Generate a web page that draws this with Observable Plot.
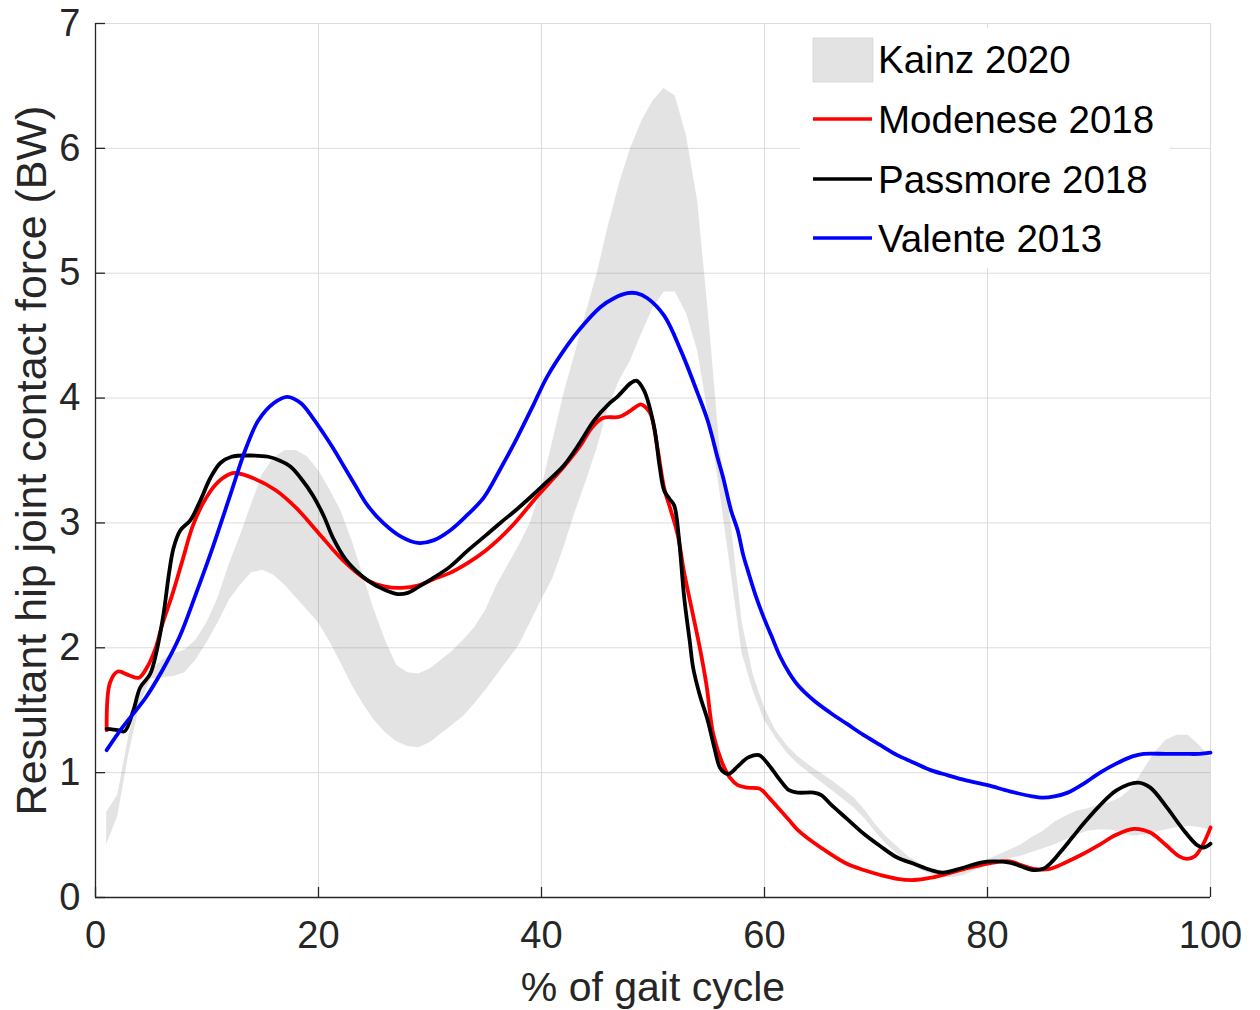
<!DOCTYPE html>
<html><head><meta charset="utf-8">
<script src="https://cdn.jsdelivr.net/npm/d3@7"></script>
<script src="https://cdn.jsdelivr.net/npm/@observablehq/plot@0.6"></script>
<style>
body{margin:0;background:#fff;}
#wrap{position:relative;width:1260px;height:1010px;font-family:"Liberation Sans",Arial,sans-serif;}
#wrap svg{position:absolute;left:0;top:0;}
</style></head><body><div id="wrap"></div>
<script>
const xTicks = [0, 20, 40, 60, 80, 100];
const yTicks = [0, 1, 2, 3, 4, 5, 6, 7];
const xLabel = "% of gait cycle";
const yLabel = "Resultant hip joint contact force (BW)";
const bandName = "Kainz 2020";
const lineNames = ["Modenese 2018", "Passmore 2018", "Valente 2013"];

// Kainz 2020 band (lower / upper bounds)
const kainzX = [1,2,3,4,5,6,7,8,9,10,11,12,13,14,15,16,17,18,19,20,21,22,23,24,25,26,27,28,29,30,31,32,33,34,35,36,37,38,39,40,41,42,43,44,45,46,47,48,49,50,51,52,53,54,55,56,57,58,59,60,61,62,63,64,65,66,67,68,69,70,71,72,73,74,75,76,77,78,79,80,81,82,83,84,85,86,87,88,89,90,91,92,93,94,95,96,97,98,99,100];
const kainzHigh = [0.68,0.82,1.3,1.62,1.82,1.9,1.95,1.98,2.06,2.2,2.4,2.67,2.9,3.15,3.39,3.52,3.58,3.58,3.53,3.42,3.27,3.1,2.86,2.58,2.3,2.06,1.86,1.8,1.79,1.83,1.9,1.97,2.06,2.16,2.3,2.5,2.66,2.82,3.0,3.27,3.65,4.03,4.35,4.68,5.0,5.38,5.72,6.0,6.22,6.38,6.48,6.42,6.1,5.58,4.65,3.6,3.0,2.2,1.78,1.52,1.34,1.22,1.13,1.06,1.0,0.94,0.87,0.8,0.7,0.58,0.48,0.4,0.32,0.27,0.22,0.2,0.2,0.22,0.26,0.3,0.34,0.38,0.42,0.48,0.53,0.6,0.65,0.69,0.71,0.74,0.76,0.8,0.88,1.02,1.16,1.26,1.3,1.3,1.22,1.12];
const kainzLow = [0.42,0.65,1.15,1.55,1.75,1.76,1.77,1.8,1.9,2.04,2.2,2.38,2.5,2.6,2.62,2.58,2.5,2.4,2.3,2.2,2.05,1.88,1.7,1.55,1.42,1.32,1.25,1.21,1.2,1.24,1.31,1.38,1.45,1.55,1.66,1.78,1.9,2.02,2.2,2.38,2.55,2.8,3.08,3.33,3.6,3.92,4.14,4.3,4.52,4.72,4.85,4.85,4.68,4.38,3.85,3.25,2.6,1.95,1.65,1.42,1.28,1.16,1.07,1.0,0.93,0.86,0.79,0.72,0.63,0.52,0.42,0.34,0.27,0.22,0.18,0.16,0.16,0.18,0.22,0.26,0.29,0.31,0.33,0.36,0.39,0.42,0.46,0.5,0.53,0.54,0.54,0.52,0.49,0.5,0.52,0.54,0.56,0.57,0.56,0.54];

// Modenese 2018
const modeneseX = [1,1.3,2,3,3.9,4.6,5.4,6,6.9,7.8,8.7,9.6,10.8,12,12.6,14.1,16.2,18,20,22.2,24.4,26,27.4,29,30.3,31.8,33.4,35,36.3,37.8,39.3,40.5,42,43.5,44.5,45.5,47,48,48.9,49.3,49.8,50.4,51,51.6,52.2,52.8,53.5,54.2,54.8,55.4,56.2,56.9,57.6,58.5,59.6,60.4,61.4,62.2,63,64.4,65.9,67.4,68.9,70.4,71.9,73.4,75,76.4,78,79.4,80.5,82,83,84.1,85.6,87,88.6,90,91.5,93.1,94.6,96,97.2,97.9,98.6,99.3,100];
const modeneseY = [1.34,1.72,1.81,1.78,1.76,1.84,2.0,2.19,2.43,2.7,2.97,3.15,3.31,3.39,3.4,3.36,3.26,3.12,2.92,2.7,2.54,2.49,2.48,2.5,2.55,2.6,2.68,2.78,2.88,3.02,3.18,3.3,3.45,3.62,3.76,3.84,3.85,3.9,3.95,3.93,3.87,3.6,3.28,3.1,2.91,2.6,2.3,2.0,1.7,1.31,1.08,0.96,0.9,0.88,0.87,0.8,0.7,0.62,0.54,0.44,0.35,0.27,0.22,0.18,0.15,0.14,0.16,0.19,0.23,0.26,0.28,0.29,0.26,0.23,0.23,0.28,0.35,0.42,0.5,0.55,0.52,0.42,0.33,0.31,0.33,0.42,0.56];

// Passmore 2018
const passmoreX = [1,2,2.6,3.4,4,4.9,5.5,6.1,6.6,7,7.6,8.5,9.4,10.3,11.2,12.2,13.9,15.5,16.5,17.5,18.4,19.5,20.5,21.3,22.5,24.4,25.8,27.1,28,29,30.3,31.8,33.4,35,36.3,37.8,39.3,40.5,42,43.5,44.7,46,46.8,48,48.5,49.2,50.1,50.6,51,51.5,51.9,52.3,52.8,53.3,53.6,54.2,54.9,55.5,56,56.4,56.8,57.6,58.5,59.5,60.4,61.4,62.2,63,64.4,65.1,65.9,67.4,68.9,70.4,71.9,73.4,74.9,76,77.5,79.4,80.5,82,83,84.1,85,85.6,86.5,87.6,88.6,90,91.6,93.5,94.6,96.1,97.5,98.8,99.4,100];
const passmoreY = [1.35,1.34,1.33,1.5,1.68,1.79,1.98,2.27,2.6,2.8,2.94,3.02,3.18,3.36,3.48,3.53,3.54,3.53,3.5,3.45,3.36,3.22,3.05,2.88,2.7,2.54,2.47,2.43,2.44,2.49,2.56,2.65,2.78,2.9,3.0,3.11,3.23,3.33,3.46,3.65,3.82,3.95,4.01,4.12,4.14,4.06,3.77,3.45,3.26,3.19,3.14,2.9,2.4,2.05,1.84,1.62,1.42,1.2,1.04,1.0,0.99,1.05,1.12,1.14,1.06,0.94,0.86,0.84,0.84,0.82,0.75,0.63,0.51,0.41,0.32,0.27,0.22,0.2,0.23,0.28,0.29,0.28,0.25,0.22,0.23,0.27,0.36,0.48,0.59,0.73,0.86,0.92,0.88,0.72,0.55,0.42,0.4,0.43];

// Valente 2013
const valenteX = [1,2.4,4.5,6,7.5,9,10.5,12,13.5,14.6,16,17.2,18.4,19.5,20.5,21.3,22.3,23.3,24.4,25.8,27.4,28.9,30.3,31.8,33.3,34.8,36.3,37.8,39.3,40.5,42.3,43.5,45.3,46.5,47.7,48.5,49.5,51,52.5,54,54.9,55.8,56.3,57,57.6,58.1,58.5,59.2,59.9,60.6,61.4,62.2,63,64.4,65.9,67.4,68.9,70.4,71.9,73.4,74.9,76.4,78,80,82,84,85,86,87.2,88.6,90.1,91.5,93,94,96,97.6,99,100];
const valenteY = [1.18,1.36,1.6,1.82,2.08,2.43,2.8,3.2,3.6,3.82,3.96,4.01,3.96,3.84,3.71,3.6,3.45,3.3,3.14,3.0,2.89,2.84,2.86,2.94,3.06,3.2,3.43,3.68,3.95,4.17,4.42,4.56,4.73,4.8,4.84,4.84,4.8,4.66,4.38,4.04,3.82,3.52,3.36,3.1,2.94,2.74,2.62,2.42,2.25,2.1,1.93,1.8,1.7,1.58,1.48,1.39,1.3,1.22,1.14,1.08,1.02,0.98,0.94,0.9,0.85,0.81,0.8,0.81,0.84,0.91,1.0,1.07,1.13,1.15,1.15,1.15,1.15,1.16];

const lineColors = ["#ff0000", "#000000", "#0000ff"];
const bandFill = "#808080";

const band = kainzX.map((x, i) => ({x, lo: kainzLow[i], hi: kainzHigh[i]}));
const lines = [
  ...modeneseX.map((x, i) => ({name: lineNames[0], x, y: modeneseY[i]})),
  ...passmoreX.map((x, i) => ({name: lineNames[1], x, y: passmoreY[i]})),
  ...valenteX.map((x, i) => ({name: lineNames[2], x, y: valenteY[i]}))
];

const FONT = "'Liberation Sans', Arial, Helvetica, sans-serif";
const ink = "#262626";

const chart = Plot.plot({
  width: 1260, height: 1010,
  marginLeft: 95, marginRight: 50, marginTop: 23, marginBottom: 113,
  x: {domain: [0, 100]},
  y: {domain: [0, 7]},
  color: {domain: lineNames, range: lineColors},
  style: {fontFamily: FONT, background: "white", color: ink, overflow: "visible"},
  marks: [
    Plot.gridX(xTicks, {stroke: "#dcdcdc", strokeOpacity: 1, strokeWidth: 1}),
    Plot.gridY(yTicks, {stroke: "#dcdcdc", strokeOpacity: 1, strokeWidth: 1}),
    Plot.areaY(band, {x: "x", y1: "lo", y2: "hi", fill: bandFill, fillOpacity: 0.22, curve: "linear"}),
    Plot.line(lines, {x: "x", y: "y", z: "name", stroke: "name", strokeWidth: 3.8, curve: "catmull-rom"}),
    Plot.ruleX([0], {stroke: ink, strokeWidth: 1.3}),
    Plot.ruleY([0], {stroke: ink, strokeWidth: 1.3}),
    Plot.axisX(xTicks, {anchor: "bottom", tickSize: -10, tickPadding: 34, fontSize: 38, label: null, strokeWidth: 1.3, tickFormat: d => String(d)}),
    Plot.axisY(yTicks, {anchor: "left", tickSize: -10, tickPadding: 25, fontSize: 38, label: null, strokeWidth: 1.3, tickFormat: d => String(d)}),
    Plot.text([xLabel], {frameAnchor: "bottom", dy: 103, text: d => d, lineAnchor: "bottom", fontSize: 41, fill: ink}),
    Plot.text([yLabel], {frameAnchor: "left", dx: -50, rotate: -90, text: d => d, textAnchor: "middle", lineAnchor: "bottom", fontSize: 43, fill: ink})
  ]
});
document.getElementById("wrap").appendChild(chart);

// Legend
const leg = d3.create("svg").attr("width", 1260).attr("height", 1010)
  .style("pointer-events", "none").style("font-family", FONT);
leg.append("rect").attr("x", 800).attr("y", 28).attr("width", 370).attr("height", 240).attr("fill", "white");
const rows = [60, 120, 180, 239];
leg.append("rect").attr("x", 813).attr("y", 38).attr("width", 60).attr("height", 44)
  .attr("fill", bandFill).attr("fill-opacity", 0.22).attr("stroke", "#d6d6d6").attr("stroke-width", 0.8);
leg.append("text").attr("x", 878).attr("y", rows[0]).attr("dy", "0.35em").attr("font-size", 38.5).attr("fill", "#000").text(bandName);
lineNames.forEach((n, i) => {
  const y = rows[i + 1];
  leg.append("line").attr("x1", 813).attr("x2", 872).attr("y1", y - 1).attr("y2", y - 1)
    .attr("stroke", lineColors[i]).attr("stroke-width", 3.5);
  leg.append("text").attr("x", 878).attr("y", y).attr("dy", "0.35em").attr("font-size", 38.5).attr("fill", "#000").text(n);
});
document.getElementById("wrap").appendChild(leg.node());
</script></body></html>
